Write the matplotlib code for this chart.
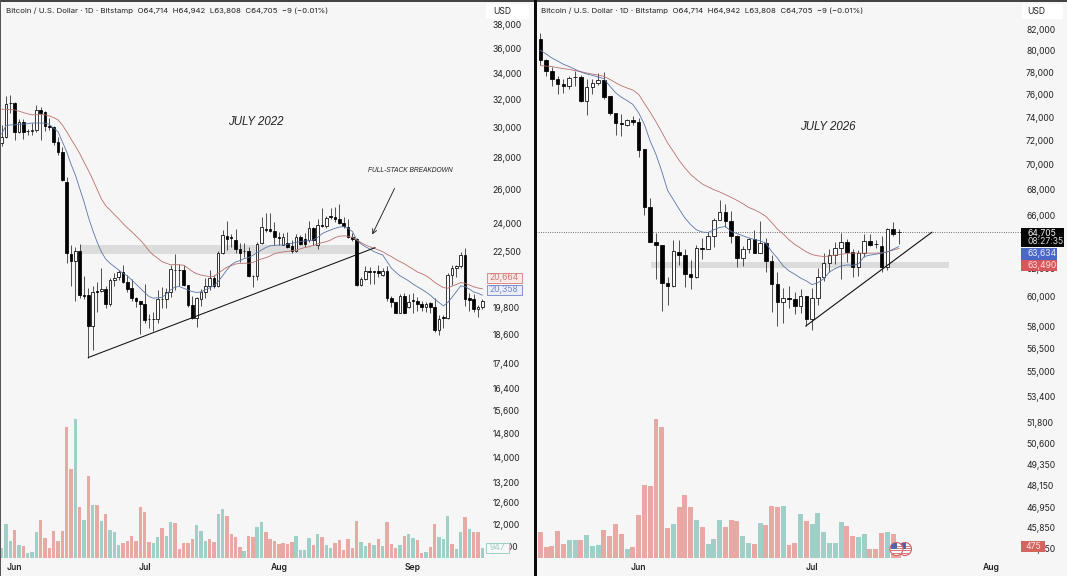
import numpy as np
import matplotlib
matplotlib.use('Agg')
import matplotlib.pyplot as plt
from matplotlib.patches import Rectangle, Ellipse

plt.rcParams['font.family'] = ['Inter', 'DejaVu Sans']

W, H = 1067, 576
BG = '#f6f6f6'
VOL_UP = '#9fcfc6'
VOL_DOWN = '#e8a9a5'

# Daily candles, 2022 panel
left_open = [
    28920, 29360, 31720, 31720, 29700, 30360, 29770, 29770, 29820, 31230,
    31110, 30120, 30030, 29000, 28360, 26460, 22390, 22050, 22530, 20390,
    20390, 18950, 20560, 20550, 20650, 19950, 21090, 21230, 21470, 20990,
    20690, 20210, 20080, 19940, 19280, 19250, 19260, 20200, 20170, 20510,
    21590, 21590, 21580, 20830, 19920, 19330, 20200, 20530, 20790, 21170,
    20800, 22430, 23350, 23290, 23130, 22640, 22560, 22560, 21290, 21260,
    22950, 23740, 23710, 23630, 23270, 22880, 22950, 22820, 22560, 23310,
    23170, 23130, 23760, 22860, 23960, 23890, 24430, 24400, 24260, 24080,
    23820, 23310, 23170, 20840, 21120, 21510, 21510, 21510, 21340, 21550,
    20250, 20060, 19550, 20300, 19830, 20140, 20110, 19950, 19830, 19980,
    19800, 18790, 19350, 19330, 21340, 21670, 21790, 22340, 20210, 20200,
    19710, 19800]
left_close = [
    29360, 31670, 31700, 29700, 30360, 29700, 29730, 29820, 31230, 31040,
    30120, 30000, 29000, 28360, 26570, 22430, 22050, 22530, 20390, 20300,
    18950, 20530, 20530, 20650, 19950, 21090, 21170, 21470, 20990, 20670,
    20230, 20090, 19950, 19230, 19250, 19280, 20170, 20190, 20510, 21620,
    21570, 21570, 20830, 19920, 19300, 20210, 20530, 20790, 21170, 20800,
    22430, 23380, 23200, 23260, 22640, 22460, 22530, 21290, 21260, 22920,
    23810, 23670, 23630, 23270, 23220, 23270, 22770, 22560, 23310, 22920,
    22920, 23760, 23130, 23930, 23890, 24350, 24380, 24260, 24080, 23860,
    23310, 23170, 20840, 21120, 21510, 21460, 21460, 21430, 21550, 20220,
    20060, 19550, 20300, 19550, 20020, 20080, 19950, 19830, 19950, 19800,
    18790, 19260, 19300, 21340, 21670, 21790, 22340, 20170, 20140, 19710,
    19800, 20090]
left_high = [
    30170, 32250, 32330, 31840, 30570, 30570, 29870, 30320, 31590, 31470,
    31180, 30640, 30120, 29310, 28690, 26740, 22860, 22770, 22920, 21290,
    20700, 20800, 21010, 21670, 20800, 21200, 21410, 21580, 21840, 21340,
    21130, 20260, 20110, 20870, 19500, 19600, 20610, 20770, 20690, 21840,
    22390, 21890, 21840, 20830, 20300, 20280, 20640, 21170, 21580, 21340,
    22560, 23670, 24180, 23470, 23710, 22950, 22950, 22770, 21330, 23040,
    24400, 24640, 24610, 24130, 23580, 23490, 23580, 23130, 23470, 23420,
    23490, 24180, 23810, 24260, 24890, 24430, 24890, 24980, 25160, 24400,
    24290, 23490, 23220, 21230, 21790, 21720, 21550, 21840, 21670, 21790,
    20330, 20060, 20430, 20460, 20430, 20460, 20260, 20110, 20020, 20060,
    20220, 19450, 19450, 21420, 21840, 21840, 22470, 22730, 20460, 20430,
    19910, 20170]
left_low = [
    28740, 29250, 31000, 29140, 29590, 29190, 29480, 29480, 29700, 29140,
    29770, 29820, 28800, 28130, 26530, 21920, 20810, 20110, 20230, 20170,
    17600, 17940, 19600, 20500, 19770, 19860, 20800, 21090, 20930, 20530,
    20110, 19830, 18600, 19090, 18860, 18760, 19090, 19770, 19770, 20260,
    20610, 20800, 20800, 19800, 19260, 18900, 19860, 20210, 20610, 20690,
    20770, 22390, 22600, 22770, 22430, 22000, 22260, 21230, 20770, 21090,
    22920, 23580, 23580, 22860, 22860, 22860, 22690, 22460, 22510, 22860,
    22770, 23040, 22860, 22640, 23810, 23760, 24290, 24130, 23980, 23760,
    23220, 23090, 20800, 20800, 21090, 20890, 20890, 21230, 21290, 20110,
    19830, 19520, 19520, 19520, 19770, 19550, 19650, 19650, 19600, 19550,
    18680, 18560, 18860, 19260, 20840, 21230, 21670, 19860, 19650, 19600,
    19350, 19740]

# Moving averages, 2022 panel
left_fast = [
    29550, 30120, 30170, 30170, 30210, 30220, 30250, 30300, 30300, 30300,
    30300, 30200, 29940, 29700, 29020, 28360, 27560, 26880, 26060, 25270,
    24400, 23670, 23040, 22510, 22140, 21920, 21750, 21580, 21420, 21290,
    21090, 20890, 20690, 20490, 20300, 20220, 20240, 20260, 20410, 20610,
    20740, 20770, 20690, 20610, 20530, 20490, 20510, 20610, 20710, 20810,
    21010, 21290, 21580, 21840, 21980, 22050, 22160, 22210, 22320, 22470,
    22600, 22730, 22820, 22840, 22860, 22860, 22900, 22950, 23010, 23040,
    23070, 23090, 23130, 23270, 23470, 23580, 23670, 23760, 23830, 23850,
    23760, 23580, 23130, 22920, 22770, 22650, 22510, 22420, 22340, 22000,
    21670, 21470, 21290, 21170, 21040, 20890, 20760, 20640, 20500, 20360,
    20170, 20020, 19860, 20020, 20260, 20530, 20800, 20770, 20650, 20510,
    20450, 20358]
left_slow = [
    31280, 31280, 31250, 31230, 31140, 31040, 30950, 30880, 30880, 30900,
    30880, 30800, 30680, 30520, 30170, 29700, 29210, 28740, 28250, 27690,
    27170, 26610, 26020, 25440, 25040, 24790, 24530, 24290, 24030, 23790,
    23580, 23350, 23120, 22860, 22560, 22340, 22180, 22000, 21920, 21840,
    21850, 21840, 21820, 21670, 21510, 21400, 21330, 21290, 21250, 21260,
    21420, 21570, 21720, 21800, 21880, 21910, 21920, 21920, 21960, 22050,
    22140, 22200, 22290, 22410, 22460, 22500, 22530, 22560, 22600, 22660,
    22730, 22770, 22840, 22920, 22990, 23040, 23130, 23260, 23330, 23350,
    23330, 23260, 23130, 22990, 22860, 22770, 22690, 22600, 22510, 22370,
    22260, 22120, 22000, 21890, 21750, 21620, 21480, 21400, 21290, 21150,
    20970, 20840, 20720, 20690, 20790, 20870, 20960, 20930, 20840, 20760,
    20700, 20664]

left_volume = [
    924, 3333, 1683, 2706, 1254, 1155, 495, 594, 2541, 3729,
    1947, 990, 2640, 1683, 2673, 12903, 8778, 13761, 5016, 3729,
    8085, 5214, 5214, 3630, 4323, 2739, 2541, 1254, 1485, 1683,
    2112, 1650, 5016, 4521, 1518, 1452, 2046, 2937, 2178, 3498,
    3432, 891, 1452, 1419, 1815, 3234, 2640, 1650, 1815, 1551,
    4356, 4818, 4125, 2343, 2046, 1056, 693, 2178, 2046, 3036,
    3564, 2574, 1815, 1650, 1353, 1485, 1386, 1551, 2145, 726,
    726, 1914, 1254, 2343, 2046, 1254, 957, 1419, 1782, 792,
    1848, 957, 3663, 1518, 1155, 1452, 1287, 1881, 1188, 3564,
    1353, 957, 1254, 2145, 2343, 1914, 1749, 462, 528, 1023,
    3333, 2046, 1815, 4125, 1353, 858, 2541, 4026, 2838, 2574,
    2574, 947]
# g = up day, r = down day
left_volume_dir = ('gggrgrgggr' 'rrrrrrrgrg' 'rgrgrgggrr' 'rrrrrggrgg' 'rrrrrgggrr' 'ggrrrrgrrg'
                   'grrrrrrrgg' 'ggrgrggrrr' 'rrrggrgrgr' 'rrgrggrrgr' 'rgggrggrgr' 'rg')

# Daily candles, 2026 panel (first entry sits on the panel edge)
right_open = [
    81110, 81040, 79100, 78130, 77400, 76950, 76740, 77550, 77580, 75440,
    76680, 77010, 77250, 75820, 74320, 73490, 73340, 73740, 73550, 71320,
    66660, 63990, 63770, 60960, 60770, 63240, 63000, 61610, 61410, 63520,
    63490, 64390, 65660, 66220, 65560, 64390, 62820, 63440, 64190, 63190,
    63890, 62600, 60910, 59630, 59930, 59860, 59390, 60070, 58460, 59910,
    61390, 62450, 63000, 63520, 63970, 63240, 62160, 63150, 64060, 63840,
    63690, 62160, 64940, 64714]
right_close = [
    79170, 79100, 78130, 77400, 76950, 76770, 77460, 77580, 75440, 76680,
    76980, 77250, 75790, 74320, 73520, 73440, 73740, 73550, 71260, 66660,
    63990, 63770, 60960, 60770, 63290, 63020, 61610, 61410, 63520, 63490,
    64390, 65660, 66220, 65560, 64390, 62820, 63440, 64190, 63190, 63890,
    62600, 60910, 59630, 59950, 59880, 59390, 60070, 58460, 59910, 61390,
    62450, 63000, 63520, 63940, 63240, 62160, 63150, 64040, 63770, 63790,
    62160, 64940, 64610, 64705]
right_high = [
    81700, 81680, 79230, 78500, 77640, 77340, 77640, 78090, 77700, 77340,
    77400, 77880, 78000, 75850, 74320, 74240, 73860, 74140, 73950, 71320,
    67340, 64640, 63770, 61440, 64140, 64140, 63440, 62650, 63770, 64270,
    64690, 65790, 67210, 66900, 66300, 64510, 63640, 64310, 64890, 65530,
    64270, 63020, 61800, 60610, 60790, 60370, 60540, 60070, 60610, 62040,
    63150, 63440, 64010, 64640, 64190, 63440, 63390, 64590, 64590, 64140,
    64390, 65020, 65490, 64942]
right_low = [
    78620, 78620, 77640, 76740, 76060, 76080, 76440, 76740, 75310, 74170,
    76060, 76800, 75610, 74150, 72500, 72390, 73230, 73290, 70620, 66040,
    63990, 61250, 59040, 59420, 60720, 62280, 60680, 60580, 61320, 62700,
    63440, 63590, 65660, 65140, 63890, 62160, 62210, 63150, 63150, 63150,
    61800, 58970, 58000, 58190, 59210, 58800, 58870, 58000, 57730, 59440,
    61150, 61800, 62360, 61250, 62530, 61390, 61480, 62850, 63640, 63520,
    61760, 61920, 64390, 63808]

# Moving averages, 2026 panel (start one day after the edge candle)
right_fast = [
    80010, 79660, 79290, 79010, 78710, 78500, 78250, 78010, 77830, 77700,
    77550, 77400, 76740, 76150, 75750, 75440, 75110, 74380, 73370, 71960,
    70850, 69470, 67950, 67210, 66480, 65790, 65280, 64890, 64720, 64690,
    64890, 65070, 65140, 64760, 64610, 64440, 64290, 64160, 64060, 63890,
    63270, 62780, 62210, 61850, 61610, 61340, 61130, 60870, 61010, 61290,
    61780, 62020, 62210, 62280, 62260, 62360, 62900, 63000, 63070, 63150,
    63240, 63440, 63634]
right_slow = [
    78590, 78550, 78500, 78400, 78310, 78250, 78130, 78040, 77910, 77820,
    77730, 77610, 77340, 77040, 76770, 76560, 76380, 76000, 75200, 74430,
    73600, 72720, 71820, 71090, 70370, 69750, 69210, 68810, 68460, 68220,
    68000, 67820, 67610, 67390, 67160, 66900, 66610, 66430, 66200, 65910,
    65450, 64940, 64570, 64140, 63790, 63520, 63240, 63040, 62950, 62900,
    62930, 63000, 63070, 63120, 63150, 63150, 63150, 63150, 63150, 63170,
    63240, 63370, 63490]

right_volume = [
    11024, 4081, 1696, 1802, 4293, 2120, 2756, 2756, 2809, 3657,
    1855, 2014, 4346, 3392, 5353, 3710, 1378, 1696, 6837, 11607,
    11342, 22048, 20829, 4664, 5353, 8056, 9964, 8056, 5936, 4876,
    2173, 2968, 5989, 4876, 5989, 5830, 3498, 2332, 2120, 5459,
    5141, 8268, 8056, 8215, 2014, 2385, 6943, 5830, 5300, 7155,
    4081, 2332, 2279, 5724, 4982, 3445, 3339, 3763, 1431, 1378,
    3869, 4081, 3816, 475]
right_volume_dir = ('g' 'rrrrrggrgg' 'grrrrgrrrr' 'rrrgrrrgrg' 'ggrrrggrgr' 'rrgrrgrggg' 'gggrrggrrr' 'grr')

left_ticks = [38000, 36000, 34000, 32000, 30000, 28000, 26000, 24000, 22500, 19800,
              18600, 17400, 16400, 15600, 14800, 14000, 13200, 12600, 12000, 11400]
right_ticks = [82000, 80000, 78000, 76000, 74000, 72000, 70000, 68000, 66000, 62000, 60000, 58000,
               56500, 55000, 53400, 51800, 50600, 49350, 48150, 46950, 45850, 44750]
left_months = [3, 33, 64, 95]
left_month_labels = ['Jun', 'Jul', 'Aug', 'Sep']
right_months = [17, 47, 78]
right_month_labels = ['Jun', 'Jul', 'Aug']
header = 'Bitcoin / U.S. Dollar · 1D · Bitstamp  O64,714  H64,942  L63,808  C64,705  −9 (−0.01%)'


def add_box(x0, y0, x1, y1, fc, ec='none', lw=0.0):
    box = Rectangle((x0 / W, 1 - y1 / H), (x1 - x0) / W, (y1 - y0) / H, transform=fig.transFigure,
                    facecolor=fc, edgecolor=ec, linewidth=lw, zorder=2)
    fig.add_artist(box)
    return box


def add_text(x, y, s, **kw):
    kw.setdefault('va', 'center')
    kw.setdefault('fontsize', 6.2)
    fig.text(x / W, 1 - y / H, s, zorder=3, **kw)


def draw_panel(x0, x1, xlim, ylim, vol_ylim, xs, o, h, l, c, fast, slow, vol, vol_dir,
               ticks, months, month_labels, ma_x, body_w, bar_w, pad):
    rect = [x0 / W, 0, (x1 - x0) / W, 1]

    # volume sits on its own hidden axes under the price axes
    ax_vol = fig.add_axes(rect)
    ax_vol.set_xlim(xlim)
    ax_vol.set_ylim(vol_ylim)
    ax_vol.axis('off')
    colors = [VOL_UP if d == 'g' else VOL_DOWN for d in vol_dir]
    ax_vol.bar(xs, vol, width=bar_w, color=colors, linewidth=0)

    ax = fig.add_axes(rect)
    ax.patch.set_alpha(0)
    ax.set_yscale('log')
    ax.set_xlim(xlim)
    ax.set_ylim(ylim)
    for s in ax.spines.values():
        s.set_visible(False)

    ax.vlines(xs, l, h, color='#222222', linewidth=0.55, zorder=3)
    for xi, oi, ci in zip(xs, o, c):
        fc = '#ffffff' if ci >= oi else '#000000'
        ax.bar(xi, abs(ci - oi), bottom=min(oi, ci), width=body_w, facecolor=fc,
               edgecolor='#000000', linewidth=0.55, zorder=4)
    ax.plot(ma_x, slow, color='#b8706c', linewidth=0.6, zorder=5)
    ax.plot(ma_x, fast, color='#5b74a8', linewidth=0.6, zorder=5)

    ax.yaxis.tick_right()
    ax.set_yticks(ticks)
    ax.set_yticklabels([f'{t:,}' for t in ticks])
    ax.yaxis.set_minor_locator(matplotlib.ticker.NullLocator())
    ax.tick_params(axis='y', length=0, pad=pad, labelsize=6.2, labelcolor='#222222')
    ax.set_xticks(months)
    ax.set_xticklabels(month_labels, fontweight='semibold')
    ax.tick_params(axis='x', length=0, pad=-9.4, labelsize=6.2, labelcolor='#222222')
    return ax


fig = plt.figure(figsize=(W / 100, H / 100), dpi=100, facecolor=BG)

# Left panel, price scale is logarithmic
left_x = np.arange(len(left_open))
ax_l = draw_panel(0, 534, (-0.39, 122.93), (10645, 40255), (-1812, 55212), left_x,
                  left_open, left_high, left_low, left_close, left_fast, left_slow,
                  left_volume, left_volume_dir, left_ticks, left_months, left_month_labels,
                  left_x, 0.6, 0.78, -30)
ax_l.fill_between([18.1, 82.3], 22410, 22860, color='#dcdcdc', linewidth=0, zorder=1)
ax_l.plot([20, 86.2], [17630, 22720], color='#111111', linewidth=0.75, zorder=6)
ax_l.annotate('', xy=(85.3, 23290), xytext=(91, 26200),
              arrowprops=dict(arrowstyle='->', color='#222222', linewidth=0.65, mutation_scale=8))

# Right panel
right_x = np.arange(len(right_open)) - 1
ax_r = draw_panel(536, 1067, (-0.75, 91.07), (43330, 84840), (-2910, 88674), right_x,
                  right_open, right_high, right_low, right_close, right_fast, right_slow,
                  right_volume, right_volume_dir, right_ticks, right_months, right_month_labels,
                  right_x[1:], 0.62, 0.86, -29.5)
ax_r.fill_between([19.1, 70.7], 62080, 62530, color='#dcdcdc', linewidth=0, zorder=1)
ax_r.plot([45.9, 67.7], [58000, 64705], color='#111111', linewidth=0.8, zorder=6)
ax_r.plot([-0.75, 83.5], [64705, 64705], color='#222222', linewidth=0.55, linestyle=(0, (1, 2)), zorder=2)

# Panel borders
add_box(0, 0, 534, 1.5, '#444444')
add_box(0, 0, 1, 576, '#555555')
add_box(533.5, 0, 536.5, 576, '#0a0a0a')
add_box(536.5, 0, 1067, 1.5, '#444444')

# Headers and currency labels
add_text(6, 11, header, color='#222222', fontsize=5.65)
add_text(541, 11, header, color='#222222', fontsize=5.65)
add_box(486, 4, 529, 19, '#ffffff')
add_text(502, 12, 'USD', color='#222222', ha='center')
add_box(1022, 4, 1063, 19, '#ffffff')
add_text(1036, 12, 'USD', color='#222222', ha='center')

# Annotations
add_text(256, 122, 'JULY 2022', family='Liberation Sans', style='italic', fontsize=8.3, color='#222222', ha='center')
add_text(828, 127, 'JULY 2026', family='Liberation Sans', style='italic', fontsize=8.3, color='#222222', ha='center')
add_text(410, 171, 'FULL-STACK BREAKDOWN', family='Liberation Sans', style='italic', fontsize=4.75, color='#222222', ha='center')

# Last value tags, left
add_box(487, 273, 522, 283, '#f8e9e7', '#d98f8a', 0.7)
add_text(504, 278, '20,664', color='#cf7d78', ha='center')
add_box(487, 285, 522, 295, '#e9edf7', '#8492cc', 0.7)
add_text(504, 290, '20,358', color='#7589c8', ha='center')
add_box(486, 543, 509, 553, '#f6f9f8', '#9fcfc6', 0.7)
add_text(497.5, 548, '947', color='#9fcfc6', ha='center')

# Last value tags, right
add_box(1021, 228, 1064, 247, '#050505')
add_text(1027, 233, '64,705', color='#f2f2f2')
add_text(1027, 242, '08:27:35', color='#d8d8d8')
add_box(1021, 248, 1057, 260, '#4a68c8')
add_text(1027, 254, '63,634', color='#e6eaf8')
add_box(1021, 260, 1057, 271, '#d9575a')
add_text(1027, 265.5, '63,490', color='#f8dddd')
add_box(1021, 541, 1045, 552, '#d4645e')
add_text(1033, 546.5, '475', color='#fbe4e2', ha='center')

# Two small flag badges over the newest volume bars
for cx in [905, 896.5]:
    disc = Ellipse((cx / W, 1 - 549 / H), 13 / W, 13 / H, transform=fig.transFigure,
                   facecolor='#ffffff', edgecolor='#cf5f62', linewidth=0.8, zorder=2)
    fig.add_artist(disc)
    for row in range(4):
        stripe = add_box(cx - 6, 545.5 + row * 2.4, cx + 6, 546.5 + row * 2.4, '#d9777a')
        stripe.set_clip_path(disc)
    canton = add_box(cx - 5.5, 543, cx + 0.5, 549, '#4f65a8')
    canton.set_clip_path(disc)

fig.savefig('out.png', dpi=100, facecolor=BG)
